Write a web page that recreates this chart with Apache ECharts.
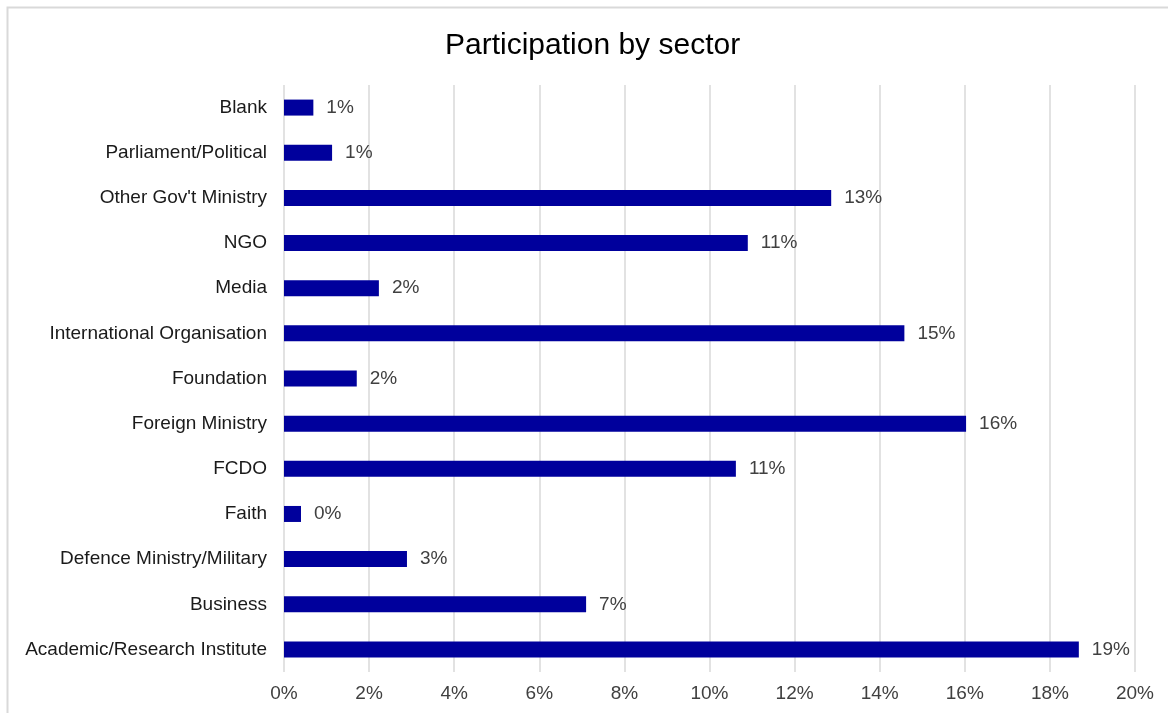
<!DOCTYPE html>
<html>
<head>
<meta charset="utf-8">
<script src="https://cdn.jsdelivr.net/npm/echarts@6/dist/echarts.min.js"></script>
<style>
html,body{margin:0;padding:0;background:#fff;}
#chart{width:1168px;height:713px;}
</style>
</head>
<body>
<div id="chart"></div>
<script>
const categories = ["Blank","Parliament/Political","Other Gov't Ministry","NGO","Media","International Organisation","Foundation","Foreign Ministry","FCDO","Faith","Defence Ministry/Military","Business","Academic/Research Institute"];
const values = [0.69, 1.13, 12.86, 10.90, 2.23, 14.58, 1.71, 16.03, 10.62, 0.40, 2.89, 7.10, 18.68];
const xTicks = {min: 0, max: 20, interval: 2};

const chart = echarts.init(document.getElementById('chart'), null, {renderer: 'canvas'});
const font = "'Liberation Sans', Arial, sans-serif";
chart.setOption({
  animation: false,
  backgroundColor: '#fff',
  title: {
    text: 'Participation by sector',
    left: 440,
    top: 26,
    textStyle: {fontFamily: font, fontSize: 30, fontWeight: 'normal', color: '#000'}
  },
  graphic: [{
    type: 'rect',
    shape: {x: 7.5, y: 7.5, width: 1300, height: 900},
    style: {fill: 'none', stroke: '#d9d9d9', lineWidth: 2},
    silent: true,
    z: -1
  }],
  grid: {left: 284, right: 33, top: 85, bottom: 41, containLabel: false},
  xAxis: {
    type: 'value',
    min: xTicks.min, max: xTicks.max, interval: xTicks.interval,
    axisLine: {show: false},
    axisTick: {show: false},
    splitLine: {show: true, lineStyle: {color: '#d9d9d9', width: 1.5}},
    axisLabel: {formatter: v => v + '%', fontFamily: font, fontSize: 19, color: '#404040', margin: 12}
  },
  yAxis: {
    type: 'category',
    data: categories,
    inverse: true,
    axisLine: {show: false},
    axisTick: {show: false},
    axisLabel: {fontFamily: font, fontSize: 19, color: '#1a1a1a', margin: 17}
  },
  series: [{
    type: 'bar',
    data: values,
    barWidth: 16,
    itemStyle: {color: '#00009c'},
    label: {
      show: true,
      position: 'right',
      distance: 13,
      formatter: p => Math.round(p.value) + '%',
      fontFamily: font, fontSize: 19, color: '#404040'
    }
  }]
});
</script>
</body>
</html>
